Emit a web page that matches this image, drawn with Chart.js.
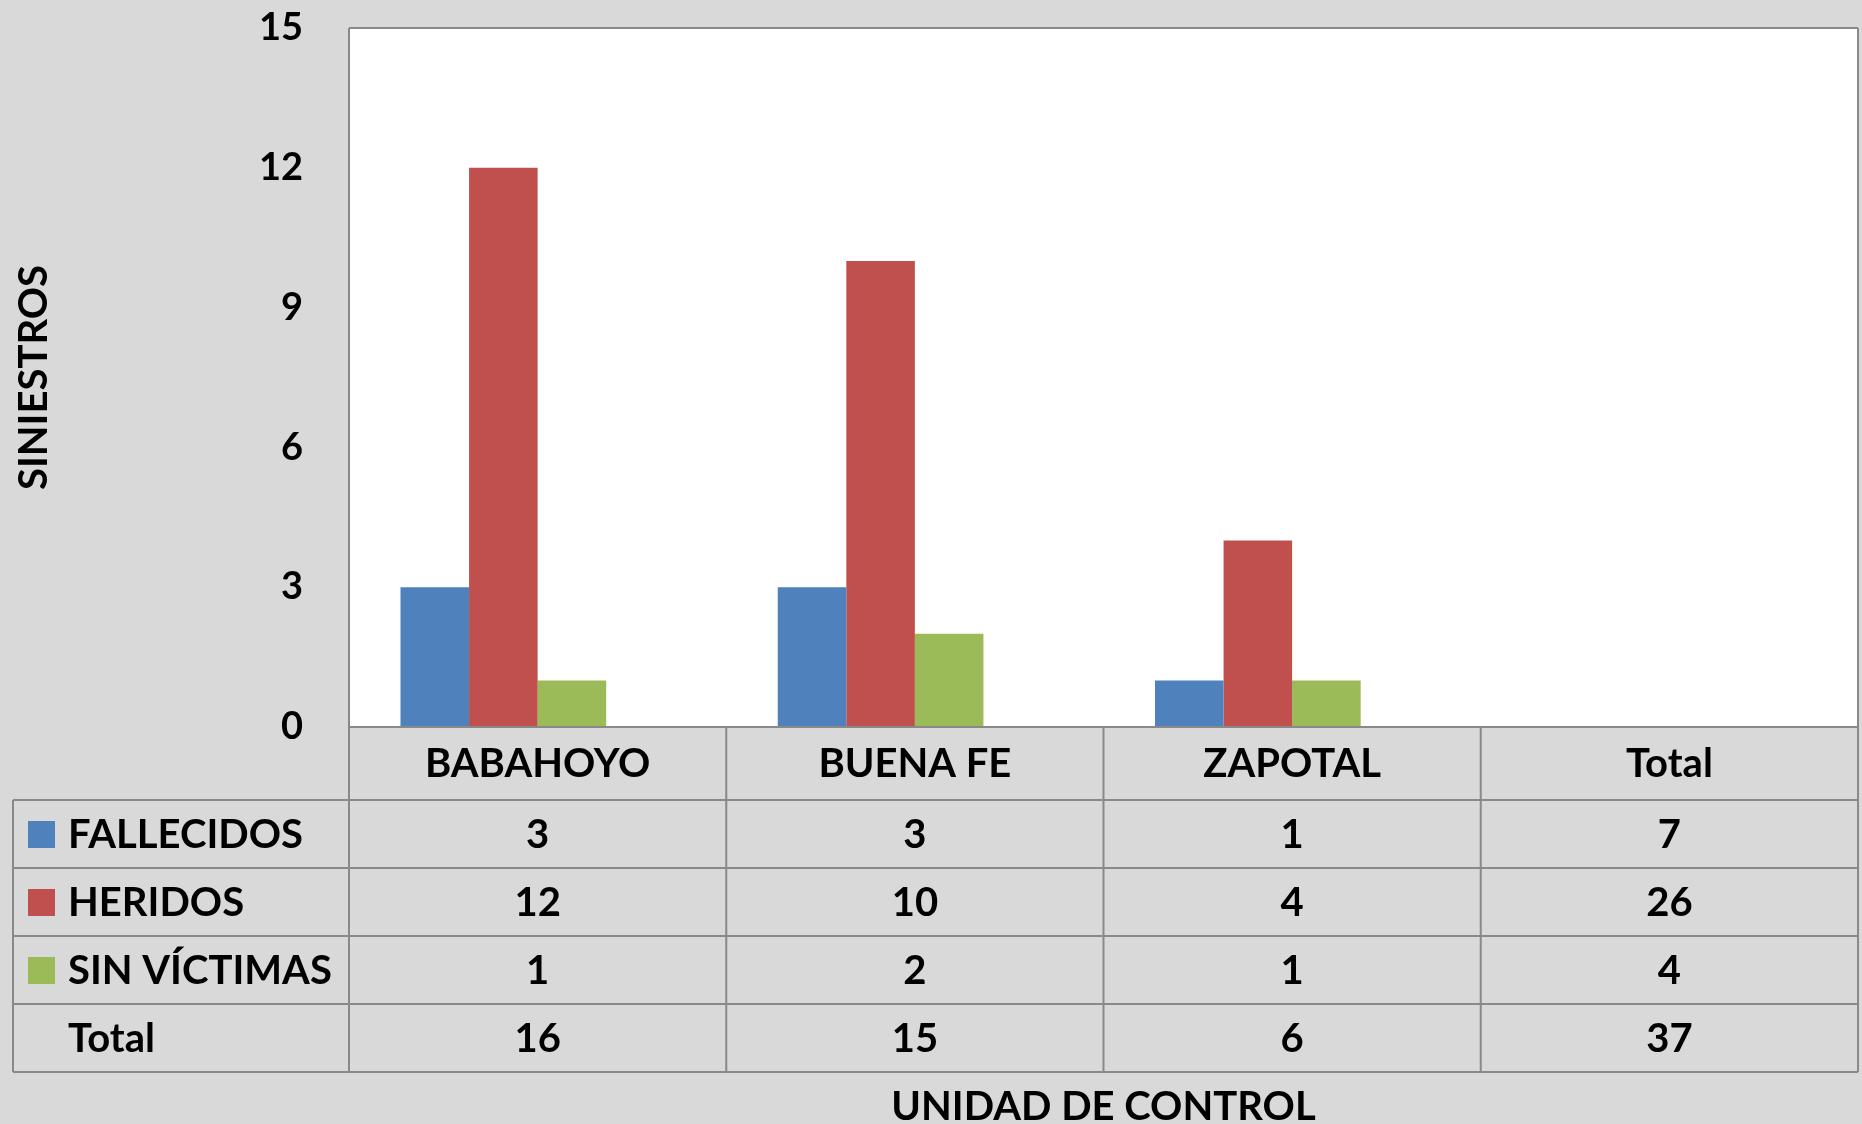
<!DOCTYPE html>
<html>
<head>
<meta charset="utf-8">
<script src="https://cdn.jsdelivr.net/npm/chart.js@4/dist/chart.umd.min.js"></script>
<style>
  html, body { margin: 0; padding: 0; background: #D9D9D9; }
  #wrap { width: 1862px; height: 1124px; }
</style>
</head>
<body>
<div id="wrap"><canvas id="c" width="1862" height="1124"></canvas></div>
<script>
// ---- data ----
const categories = ['BABAHOYO', 'BUENA FE', 'ZAPOTAL', 'Total'];
const seriesNames = ['FALLECIDOS', 'HERIDOS', 'SIN VÍCTIMAS'];
const fallecidos = [3, 3, 1];
const heridos = [12, 10, 4];
const sinVictimas = [1, 2, 1];
const rowTotals = [7, 26, 4];          // "Total" column for each series
const columnTotals = [16, 15, 6];      // "Total" row for each unit
const grandTotal = 37;
const yTicks = [0, 3, 6, 9, 12, 15];
const yTitle = 'SINIESTROS';
const xTitle = 'UNIDAD DE CONTROL';
const totalLabel = 'Total';

const colors = ['#4F81BD', '#C0504D', '#9BBB59'];
const FONT = 'Lato, "Open Sans", sans-serif';

const seriesValues = [fallecidos, heridos, sinVictimas];

const tablePlugin = {
  id: 'tablePlugin',
  beforeDraw(chart) {
    const { ctx, chartArea } = chart;
    ctx.save();
    ctx.fillStyle = '#D9D9D9';
    ctx.fillRect(0, 0, chart.width, chart.height);
    ctx.fillStyle = '#FFFFFF';
    ctx.fillRect(chartArea.left, chartArea.top, chartArea.right - chartArea.left, chartArea.bottom - chartArea.top);
    ctx.restore();
  },
  afterDraw(chart) {
    const { ctx, chartArea } = chart;
    const xs = chart.scales.x;
    const n = categories.length;
    const catW = (chartArea.right - chartArea.left) / n;
    const tableLeft = 13;
    const headerH = 73;
    const rowH = 68;
    const top = chartArea.bottom;
    const rowTops = [top, top + headerH];
    for (let i = 1; i <= 4; i++) rowTops.push(top + headerH + rowH * i);
    const bottom = rowTops[rowTops.length - 1];

    ctx.save();
    ctx.strokeStyle = '#898989';
    ctx.lineWidth = 2;
    // plot border
    ctx.beginPath();
    ctx.moveTo(chartArea.left, chartArea.top);
    ctx.lineTo(chartArea.right, chartArea.top);
    ctx.moveTo(chartArea.left, chartArea.top);
    ctx.lineTo(chartArea.left, bottom);
    ctx.moveTo(chartArea.right, chartArea.top);
    ctx.lineTo(chartArea.right, bottom);
    ctx.stroke();
    // horizontal lines
    ctx.beginPath();
    ctx.moveTo(chartArea.left, rowTops[0]);
    ctx.lineTo(chartArea.right, rowTops[0]);
    for (let r = 1; r < rowTops.length; r++) {
      ctx.moveTo(tableLeft, rowTops[r]);
      ctx.lineTo(chartArea.right, rowTops[r]);
    }
    // vertical lines
    ctx.moveTo(tableLeft, rowTops[1]);
    ctx.lineTo(tableLeft, bottom);
    for (let i = 1; i < n; i++) {
      const x = chartArea.left + catW * i;
      ctx.moveTo(x, rowTops[0]);
      ctx.lineTo(x, bottom);
    }
    ctx.stroke();

    // header text
    ctx.fillStyle = '#000';
    ctx.font = 'bold 40px ' + FONT;
    ctx.textAlign = 'center';
    ctx.textBaseline = 'middle';
    categories.forEach((c, i) => {
      ctx.fillText(c, xs.getPixelForValue(i), (rowTops[0] + rowTops[1]) / 2 + 1);
    });
    // series rows
    seriesValues.forEach((vals, s) => {
      const yc = (rowTops[s + 1] + rowTops[s + 2]) / 2 + 1;
      ctx.fillStyle = colors[s];
      ctx.fillRect(28, yc - 14, 27, 27);
      ctx.fillStyle = '#000';
      ctx.textAlign = 'left';
      ctx.fillText(seriesNames[s], 68, yc);
      ctx.textAlign = 'center';
      vals.forEach((v, i) => ctx.fillText(String(v), xs.getPixelForValue(i), yc));
      ctx.fillText(String(rowTotals[s]), xs.getPixelForValue(n - 1), yc);
    });
    // total row
    const yt = (rowTops[4] + rowTops[5]) / 2 + 1;
    ctx.textAlign = 'left';
    ctx.fillText(totalLabel, 68, yt);
    ctx.textAlign = 'center';
    columnTotals.forEach((v, i) => ctx.fillText(String(v), xs.getPixelForValue(i), yt));
    ctx.fillText(String(grandTotal), xs.getPixelForValue(n - 1), yt);

    // axis titles
    ctx.textBaseline = 'alphabetic';
    ctx.fillText(xTitle, (chartArea.left + chartArea.right) / 2, 1120);
    ctx.save();
    ctx.translate(47, (chartArea.top + chartArea.bottom) / 2);
    ctx.rotate(-Math.PI / 2);
    ctx.textAlign = 'center';
    ctx.fillText(yTitle, 0, 0);
    ctx.restore();
    ctx.restore();
  }
};

const datasets = seriesNames.map((name, s) => ({
  label: name,
  data: seriesValues[s],
  backgroundColor: colors[s],
  borderWidth: 0
}));
datasets.push({ label: totalLabel, data: [], backgroundColor: 'rgba(0,0,0,0)', borderWidth: 0 });

new Chart(document.getElementById('c'), {
  type: 'bar',
  data: { labels: categories, datasets },
  options: {
    responsive: false,
    animation: false,
    events: [],
    layout: { padding: { left: 0, right: 4, top: 28, bottom: 397 } },
    datasets: { bar: { categoryPercentage: 0.727, barPercentage: 1.0 } },
    plugins: { legend: { display: false }, tooltip: { enabled: false }, title: { display: false } },
    scales: {
      x: { display: false, offset: true, grid: { display: false } },
      y: {
        min: 0, max: 15,
        afterBuildTicks(scale) { scale.ticks = yTicks.map(v => ({ value: v })); },
        afterFit(scale) {
          scale.width = 349;
          scale.paddingTop = 0;
          scale.paddingBottom = 0;
        },
        grid: { display: false, drawTicks: false },
        border: { display: false },
        ticks: { padding: 46, color: '#000', font: { family: FONT, size: 38, weight: 'bold' } }
      }
    }
  },
  plugins: [tablePlugin]
});
</script>
</body>
</html>
